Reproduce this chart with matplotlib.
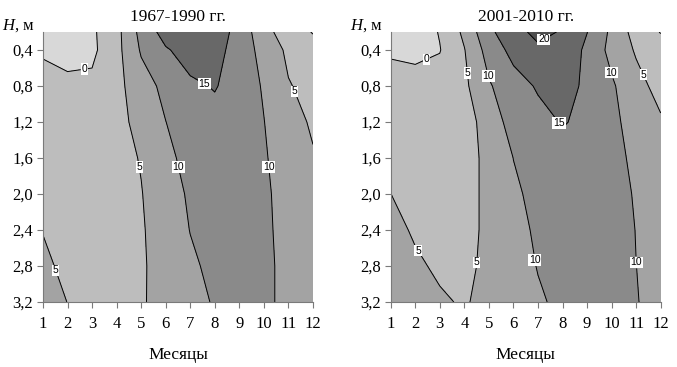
import matplotlib
matplotlib.use('Agg')
import matplotlib.pyplot as plt
import numpy as np

plt.rcParams['font.family'] = 'Liberation Serif'
plt.rcParams['mathtext.fontset'] = 'custom'
plt.rcParams['mathtext.rm'] = 'Liberation Serif'
plt.rcParams['mathtext.it'] = 'Liberation Serif:italic'

# soil temperature, deg C: rows = depth, columns = month
months = [1, 2, 3, 4, 5, 6, 7, 8, 9, 10, 11, 12]
depths = [0.2, 0.4, 0.8, 1.2, 1.6, 2.0, 2.4, 2.8, 3.2]

temp_1967_1990 = [
    [-3.0, -3.0, -0.8, 3.5, 11.5, 17.0, 19.0, 18.0, 13.0, 7.0, 2.0, -0.2],
    [-0.5, -1.5, -1.0, 3.5, 10.5, 14.5, 17.0, 17.0, 12.5, 8.5, 4.0, 1.5],
    [1.5, 1.0, 1.0, 3.5, 8.0, 11.2, 14.2, 15.3, 13.0, 9.5, 5.3, 3.5],
    [2.5, 2.0, 2.0, 3.5, 6.5, 9.95, 12.5, 13.5, 12.5, 10.1, 6.5, 4.5],
    [3.0, 2.5, 2.5, 3.2, 5.3, 9.0, 11.3, 12.7, 12.5, 10.5, 7.5, 5.3],
    [3.8, 3.0, 2.8, 3.2, 4.8, 8.0, 10.6, 12.0, 12.2, 10.8, 8.2, 6.0],
    [4.9, 3.8, 3.2, 3.3, 4.5, 7.5, 10.1, 11.5, 12.0, 11.0, 8.3, 6.8],
    [5.6, 4.3, 3.8, 3.6, 4.4, 7.0, 9.3, 11.0, 11.8, 11.2, 8.5, 7.5],
    [6.0, 4.97, 4.3, 3.9, 4.5, 6.8, 8.8, 10.3, 11.3, 11.2, 8.5, 8.0],
]

temp_2001_2010 = [
    [-2.5, -3.0, 0.3, 6.0, 14.0, 18.0, 21.5, 19.5, 15.1, 9.0, 3.0, -0.2],
    [-0.5, -0.8, -0.2, 4.8, 12.0, 16.5, 19.0, 18.5, 14.0, 8.5, 4.5, 2.0],
    [1.5, 1.2, 2.0, 4.0, 9.5, 13.0, 15.5, 17.0, 14.0, 10.7, 6.5, 3.5],
    [2.5, 2.2, 2.5, 3.5, 6.5, 12.5, 13.5, 15.3, 14.0, 11.2, 8.0, 5.5],
    [3.2, 2.8, 2.8, 3.5, 6.0, 10.05, 12.5, 13.5, 13.5, 11.5, 9.0, 6.5],
    [5.02, 3.8, 3.2, 3.5, 6.0, 9.2, 11.3, 12.7, 13.0, 11.8, 9.6, 7.5],
    [6.0, 4.6, 3.8, 3.8, 5.8, 8.3, 10.8, 12.0, 12.5, 12.0, 9.9, 8.0],
    [6.5, 5.5, 4.5, 4.2, 5.8, 7.8, 10.2, 11.5, 12.3, 12.1, 10.02, 8.7],
    [7.0, 6.2, 5.4, 4.7, 6.0, 7.5, 9.4, 11.0, 12.0, 12.0, 10.2, 8.5],
]

titles = ['1967-1990 гг.', '2001-2010 гг.']
ytick_vals = [0.4, 0.8, 1.2, 1.6, 2.0, 2.4, 2.8, 3.2]
ytick_labels = ['0,4', '0,8', '1,2', '1,6', '2,0', '2,4', '2,8', '3,2']

levels = [-10, 0, 5, 10, 15, 20, 30]
line_levels = [0, 5, 10, 15, 20]
fills = ['#d8d8d8', '#bdbdbd', '#a3a3a3', '#8a8a8a', '#686868', '#4e4e4e']

# where the contour labels sit (month, depth)
label_spots = [
    [(2.7, 0.65), (7.55, 0.78), (11.25, 0.86), (4.9, 1.7), (6.5, 1.7),
     (10.2, 1.7), (1.5, 2.85)],
    [(7.3, 0.31), (2.47, 0.51), (4.24, 0.65), (5.08, 0.68), (10.02, 0.65),
     (11.25, 0.68), (7.85, 1.21), (2.05, 2.64), (4.5, 2.76), (6.9, 2.73),
     (10.97, 2.76)],
]

fig = plt.figure(figsize=(6.77, 3.67), dpi=100)
positions = [[0.0635, 0.1771, 0.3988, 0.7357], [0.5771, 0.1771, 0.3988, 0.7357]]

for i, data in enumerate([temp_1967_1990, temp_2001_2010]):
    ax = fig.add_axes(positions[i])
    X, Y = np.meshgrid(months, depths)
    Z = np.array(data)
    ax.contourf(X, Y, Z, levels=levels, colors=fills)
    cs = ax.contour(X, Y, Z, levels=line_levels, colors='black', linewidths=0.7)
    labs = ax.clabel(cs, fmt='%d', fontsize=7.5, inline=True, inline_spacing=1,
                     manual=label_spots[i])
    for t in labs:
        t.set_family('Liberation Sans')
        t.set_rotation(0)
        t.set_bbox(dict(facecolor='white', edgecolor='none', pad=0.5))

    ax.set_xlim(1, 12)
    ax.set_ylim(3.2, 0.2)
    ax.set_xticks(months)
    ax.set_yticks(ytick_vals)
    ax.set_yticklabels(ytick_labels)
    ax.tick_params(direction='out', length=4, width=0.8, color='#7a7a7a',
                   labelsize=12, pad=3)
    ax.tick_params(axis='x', pad=6)
    for s in ['top', 'right']:
        ax.spines[s].set_visible(False)
    for s in ['left', 'bottom']:
        ax.spines[s].set_color('#7a7a7a')
        ax.spines[s].set_linewidth(0.8)

    ax.set_title(titles[i], fontsize=12.5, pad=8)
    ax.set_xlabel('Месяцы', fontsize=12.5, labelpad=11)
    ax.text(-0.15, 1.008, '$H$, м', transform=ax.transAxes, fontsize=12,
            ha='left', va='baseline')

fig.savefig('out.png', dpi=100)
